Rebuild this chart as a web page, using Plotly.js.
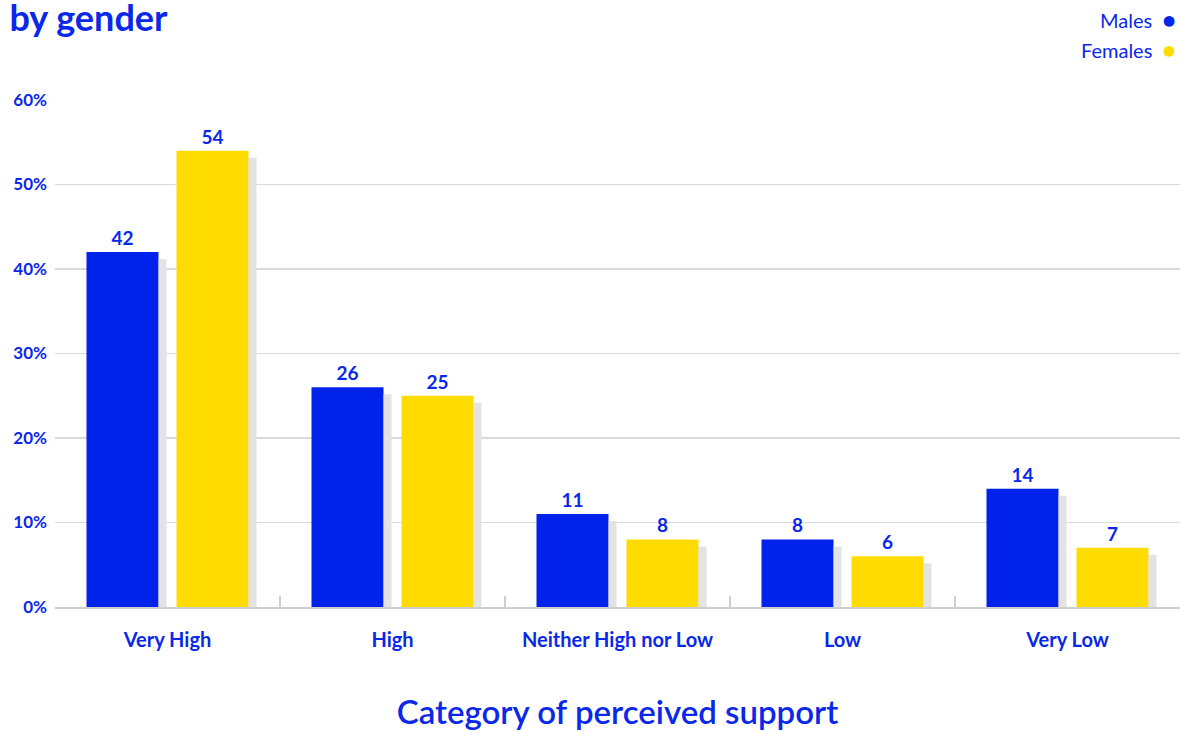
<!DOCTYPE html>
<html>
<head>
<meta charset="utf-8">
<script src="https://cdn.plot.ly/plotly-3.0.1.min.js"></script>
<style>
html,body{margin:0;padding:0;background:#fff;}
#chart{width:1180px;height:731px;}
</style>
</head>
<body>
<svg width="0" height="0" style="position:absolute">
  <defs>
    <filter id="barShadow" x="-50%" y="-50%" width="200%" height="200%">
      <feOffset in="SourceAlpha" dx="8" dy="7" result="off"/>
      <feFlood flood-color="#e3e3e3" result="col"/>
      <feComposite in="col" in2="off" operator="in" result="sh"/>
      <feMerge><feMergeNode in="sh"/><feMergeNode in="SourceGraphic"/></feMerge>
    </filter>
  </defs>
</svg>
<div id="chart"></div>
<script>
const categories = ["Very High", "High", "Neither High nor Low", "Low", "Very Low"];
const males = [42, 26, 11, 8, 14];
const females = [54, 25, 8, 6, 7];
const yTickValues = [0, 10, 20, 30, 40, 50, 60];
const yTickLabels = ["0%", "10%", "20%", "30%", "40%", "50%", "60%"];

const BLUE = "#0024ea";
const YELLOW = "#ffdc00";
const TEXT = "#0a28ea";
const FONT = "Lato, 'Open Sans', sans-serif";

const traces = [
  {
    type: "bar", name: "Males", x: categories, y: males,
    marker: {color: BLUE},
    text: males.map(String), textposition: "outside", cliponaxis: false,
    textfont: {family: FONT, size: 19, color: TEXT, weight: 700},
    hoverinfo: "x+y"
  },
  {
    type: "bar", name: "Females", x: categories, y: females,
    marker: {color: YELLOW},
    text: females.map(String), textposition: "outside", cliponaxis: false,
    textfont: {family: FONT, size: 19, color: TEXT, weight: 700},
    hoverinfo: "x+y"
  }
];

const layout = {
  width: 1180, height: 731,
  paper_bgcolor: "#ffffff", plot_bgcolor: "#ffffff",
  margin: {l: 55, r: 0, t: 100, b: 124},
  showlegend: false,
  barmode: "group", bargap: 0.2, bargroupgap: 0.2,
  font: {family: FONT, color: TEXT},
  title: {
    text: "by gender",
    font: {family: FONT, size: 36, color: TEXT, weight: 700},
    xref: "container", yref: "container",
    x: 0.008, xanchor: "left", y: 1, yanchor: "top",
    pad: {t: 6, l: 0}
  },
  xaxis: {
    type: "category",
    showgrid: false,
    showline: true, linecolor: "#cfcfcf", linewidth: 2,
    ticks: "inside", tickson: "boundaries", ticklen: 11, tickcolor: "#cfcfcf", tickwidth: 1.5,
    ticklabelstandoff: 14,
    tickfont: {family: FONT, size: 20, color: TEXT, weight: 700},
    title: {text: "Category of perceived support", standoff: 52,
            font: {family: FONT, size: 33, color: TEXT, weight: 600}},
    fixedrange: true
  },
  yaxis: {
    range: [0, 60],
    tickvals: yTickValues, ticktext: yTickLabels,
    showgrid: true, gridcolor: "#d9d9d9", gridwidth: 1.5,
    zeroline: false, showline: false, ticks: "",
    ticklabelstandoff: 7,
    tickfont: {family: FONT, size: 17, color: TEXT, weight: 700},
    fixedrange: true
  },
  annotations: [
    {xref: "paper", yref: "paper", x: 1, y: 1, xshift: -2, yshift: 81, xanchor: "right", yanchor: "middle",
     showarrow: false, align: "right",
     text: "Males  <span style='color:" + BLUE + ";font-size:22px'>●</span>",
     font: {family: FONT, size: 20, color: TEXT}},
    {xref: "paper", yref: "paper", x: 1, y: 1, xshift: -2, yshift: 51, xanchor: "right", yanchor: "middle",
     showarrow: false, align: "right",
     text: "Females  <span style='color:" + YELLOW + ";font-size:22px'>●</span>",
     font: {family: FONT, size: 20, color: TEXT}}
  ]
};

Plotly.newPlot("chart", traces, layout, {displayModeBar: false, staticPlot: true}).then(function(gd){
  gd.querySelectorAll(".trace.bars .point path").forEach(function(p){
    p.setAttribute("filter", "url(#barShadow)");
  });
});
</script>
</body>
</html>
